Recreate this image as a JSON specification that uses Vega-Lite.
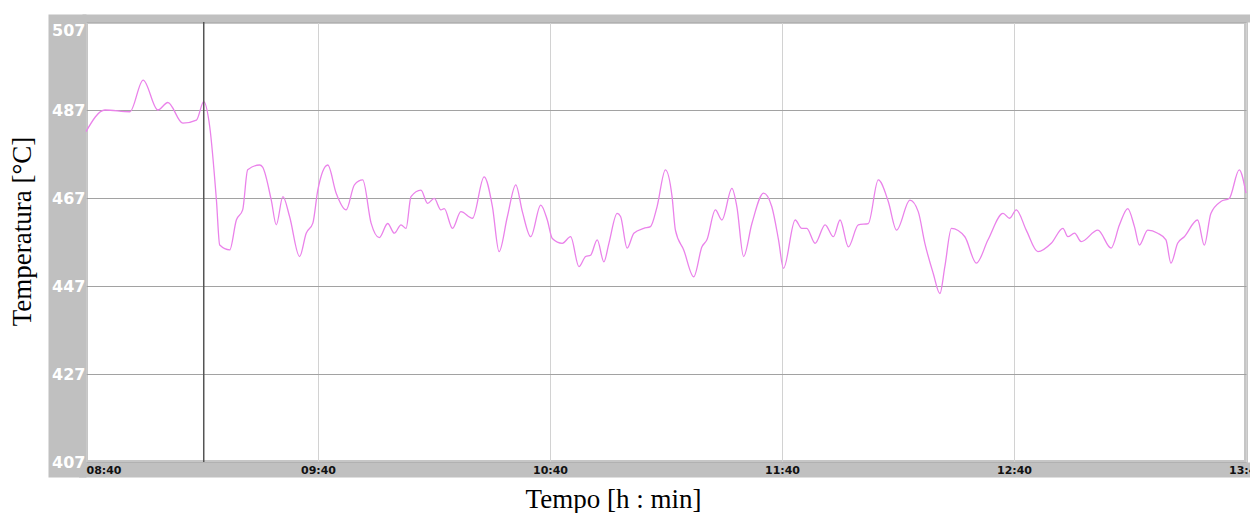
{
  "$schema": "https://vega.github.io/schema/vega-lite/v6.json",
  "width": 1160,
  "height": 440,
  "autosize": {"type": "none"},
  "padding": {"left": 86, "top": 22, "right": 4, "bottom": 51},
  "background": "white",
  "config": {"view": {"stroke": "#c6c6c6", "strokeWidth": 4}},
  "datasets": {"temp": [
    {"t": "2020-01-01T08:40:00", "temp": 482.1},
    {"t": "2020-01-01T08:44:54", "temp": 487.0},
    {"t": "2020-01-01T08:51:21", "temp": 486.6},
    {"t": "2020-01-01T08:54:47", "temp": 493.8},
    {"t": "2020-01-01T08:58:35", "temp": 487.0},
    {"t": "2020-01-01T09:01:10", "temp": 488.7},
    {"t": "2020-01-01T09:05:02", "temp": 484.0},
    {"t": "2020-01-01T09:08:34", "temp": 484.7},
    {"t": "2020-01-01T09:10:27", "temp": 488.9},
    {"t": "2020-01-01T09:12:00", "temp": 483.2},
    {"t": "2020-01-01T09:13:44", "temp": 466.5},
    {"t": "2020-01-01T09:14:35", "temp": 456.3},
    {"t": "2020-01-01T09:17:10", "temp": 455.2},
    {"t": "2020-01-01T09:18:53", "temp": 462.0},
    {"t": "2020-01-01T09:20:31", "temp": 464.3},
    {"t": "2020-01-01T09:21:49", "temp": 473.4},
    {"t": "2020-01-01T09:24:54", "temp": 474.5},
    {"t": "2020-01-01T09:25:41", "temp": 474.0},
    {"t": "2020-01-01T09:27:55", "temp": 466.5},
    {"t": "2020-01-01T09:29:13", "temp": 460.9},
    {"t": "2020-01-01T09:30:55", "temp": 467.3},
    {"t": "2020-01-01T09:32:39", "temp": 462.8},
    {"t": "2020-01-01T09:35:14", "temp": 453.7},
    {"t": "2020-01-01T09:36:57", "temp": 459.0},
    {"t": "2020-01-01T09:38:40", "temp": 461.3},
    {"t": "2020-01-01T09:39:57", "temp": 468.8},
    {"t": "2020-01-01T09:42:32", "temp": 474.5},
    {"t": "2020-01-01T09:44:42", "temp": 468.1},
    {"t": "2020-01-01T09:47:17", "temp": 464.3},
    {"t": "2020-01-01T09:49:25", "temp": 470.0},
    {"t": "2020-01-01T09:51:34", "temp": 471.1},
    {"t": "2020-01-01T09:53:44", "temp": 461.3},
    {"t": "2020-01-01T09:55:52", "temp": 458.0},
    {"t": "2020-01-01T09:58:01", "temp": 461.2},
    {"t": "2020-01-01T09:59:45", "temp": 459.0},
    {"t": "2020-01-01T10:01:28", "temp": 460.9},
    {"t": "2020-01-01T10:02:46", "temp": 460.1},
    {"t": "2020-01-01T10:04:03", "temp": 467.3},
    {"t": "2020-01-01T10:06:38", "temp": 468.8},
    {"t": "2020-01-01T10:08:20", "temp": 465.8},
    {"t": "2020-01-01T10:10:04", "temp": 466.9},
    {"t": "2020-01-01T10:11:47", "temp": 464.3},
    {"t": "2020-01-01T10:12:39", "temp": 464.6},
    {"t": "2020-01-01T10:14:47", "temp": 460.1},
    {"t": "2020-01-01T10:16:57", "temp": 463.9},
    {"t": "2020-01-01T10:19:57", "temp": 462.4},
    {"t": "2020-01-01T10:22:58", "temp": 471.8},
    {"t": "2020-01-01T10:25:07", "temp": 465.0},
    {"t": "2020-01-01T10:26:50", "temp": 454.8},
    {"t": "2020-01-01T10:28:59", "temp": 462.8},
    {"t": "2020-01-01T10:31:09", "temp": 470.0},
    {"t": "2020-01-01T10:32:51", "temp": 463.9},
    {"t": "2020-01-01T10:35:01", "temp": 458.2},
    {"t": "2020-01-01T10:37:36", "temp": 465.4},
    {"t": "2020-01-01T10:39:18", "temp": 462.0},
    {"t": "2020-01-01T10:40:36", "temp": 457.8},
    {"t": "2020-01-01T10:43:11", "temp": 456.7},
    {"t": "2020-01-01T10:45:20", "temp": 458.2},
    {"t": "2020-01-01T10:47:29", "temp": 451.4},
    {"t": "2020-01-01T10:49:13", "temp": 453.7},
    {"t": "2020-01-01T10:50:30", "temp": 454.0},
    {"t": "2020-01-01T10:52:13", "temp": 457.5},
    {"t": "2020-01-01T10:53:56", "temp": 452.5},
    {"t": "2020-01-01T10:55:14", "temp": 456.7},
    {"t": "2020-01-01T10:57:22", "temp": 463.5},
    {"t": "2020-01-01T10:58:15", "temp": 462.8},
    {"t": "2020-01-01T10:59:57", "temp": 455.6},
    {"t": "2020-01-01T11:01:41", "temp": 459.0},
    {"t": "2020-01-01T11:04:15", "temp": 460.1},
    {"t": "2020-01-01T11:05:59", "temp": 460.5},
    {"t": "2020-01-01T11:07:41", "temp": 465.0},
    {"t": "2020-01-01T11:09:51", "temp": 473.4},
    {"t": "2020-01-01T11:11:34", "temp": 467.3},
    {"t": "2020-01-01T11:12:26", "temp": 459.7},
    {"t": "2020-01-01T11:14:35", "temp": 455.2},
    {"t": "2020-01-01T11:17:10", "temp": 449.1},
    {"t": "2020-01-01T11:19:18", "temp": 455.9},
    {"t": "2020-01-01T11:20:35", "temp": 457.5},
    {"t": "2020-01-01T11:22:46", "temp": 464.3},
    {"t": "2020-01-01T11:24:28", "temp": 462.0},
    {"t": "2020-01-01T11:27:03", "temp": 469.2},
    {"t": "2020-01-01T11:28:20", "temp": 465.0},
    {"t": "2020-01-01T11:30:04", "temp": 453.7},
    {"t": "2020-01-01T11:32:13", "temp": 461.2},
    {"t": "2020-01-01T11:35:14", "temp": 468.1},
    {"t": "2020-01-01T11:37:22", "temp": 465.0},
    {"t": "2020-01-01T11:39:06", "temp": 457.5},
    {"t": "2020-01-01T11:40:23", "temp": 451.0},
    {"t": "2020-01-01T11:43:25", "temp": 462.0},
    {"t": "2020-01-01T11:45:07", "temp": 460.1},
    {"t": "2020-01-01T11:46:24", "temp": 460.1},
    {"t": "2020-01-01T11:48:34", "temp": 456.7},
    {"t": "2020-01-01T11:51:09", "temp": 460.9},
    {"t": "2020-01-01T11:53:17", "temp": 458.2},
    {"t": "2020-01-01T11:55:01", "temp": 462.0},
    {"t": "2020-01-01T11:57:10", "temp": 455.9},
    {"t": "2020-01-01T11:59:44", "temp": 460.9},
    {"t": "2020-01-01T12:02:19", "temp": 461.2},
    {"t": "2020-01-01T12:04:54", "temp": 471.1},
    {"t": "2020-01-01T12:07:29", "temp": 466.2},
    {"t": "2020-01-01T12:09:38", "temp": 459.7},
    {"t": "2020-01-01T12:13:05", "temp": 466.5},
    {"t": "2020-01-01T12:15:14", "temp": 463.9},
    {"t": "2020-01-01T12:16:57", "temp": 456.7},
    {"t": "2020-01-01T12:19:06", "temp": 449.9},
    {"t": "2020-01-01T12:20:50", "temp": 445.3},
    {"t": "2020-01-01T12:22:07", "temp": 451.4},
    {"t": "2020-01-01T12:23:49", "temp": 460.1},
    {"t": "2020-01-01T12:27:17", "temp": 458.2},
    {"t": "2020-01-01T12:30:16", "temp": 452.2},
    {"t": "2020-01-01T12:33:17", "temp": 457.5},
    {"t": "2020-01-01T12:37:10", "temp": 463.5},
    {"t": "2020-01-01T12:38:53", "temp": 462.4},
    {"t": "2020-01-01T12:40:35", "temp": 464.3},
    {"t": "2020-01-01T12:43:10", "temp": 459.7},
    {"t": "2020-01-01T12:46:11", "temp": 454.8},
    {"t": "2020-01-01T12:49:38", "temp": 456.7},
    {"t": "2020-01-01T12:52:39", "temp": 460.1},
    {"t": "2020-01-01T12:53:56", "temp": 458.2},
    {"t": "2020-01-01T12:55:40", "temp": 459.0},
    {"t": "2020-01-01T12:57:22", "temp": 457.1},
    {"t": "2020-01-01T13:01:41", "temp": 459.7},
    {"t": "2020-01-01T13:05:07", "temp": 455.6},
    {"t": "2020-01-01T13:07:17", "temp": 460.9},
    {"t": "2020-01-01T13:09:25", "temp": 464.6},
    {"t": "2020-01-01T13:11:09", "temp": 460.5},
    {"t": "2020-01-01T13:12:26", "temp": 456.3},
    {"t": "2020-01-01T13:14:35", "temp": 459.7},
    {"t": "2020-01-01T13:17:10", "temp": 459.0},
    {"t": "2020-01-01T13:19:18", "temp": 457.5},
    {"t": "2020-01-01T13:20:35", "temp": 452.2},
    {"t": "2020-01-01T13:22:19", "temp": 456.7},
    {"t": "2020-01-01T13:24:03", "temp": 458.2},
    {"t": "2020-01-01T13:27:29", "temp": 462.0},
    {"t": "2020-01-01T13:29:13", "temp": 456.3},
    {"t": "2020-01-01T13:30:55", "temp": 463.5},
    {"t": "2020-01-01T13:33:30", "temp": 466.2},
    {"t": "2020-01-01T13:35:40", "temp": 466.9},
    {"t": "2020-01-01T13:38:15", "temp": 473.4},
    {"t": "2020-01-01T13:40:00", "temp": 468.1}
  ],
  "cursor": [{"t": "2020-01-01T09:10:27"}]},
  "resolve": {"axis": {"x": "independent", "y": "independent"}},
  "layer": [
    {
      "data": {"name": "temp"},
      "mark": {"type": "line", "color": "#ea82ea", "strokeWidth": 1.3, "interpolate": "monotone"},
      "encoding": {
        "x": {
          "field": "t", "type": "temporal",
          "scale": {"domain": [
            {"year": 2020, "month": 1, "date": 1, "hours": 8, "minutes": 40},
            {"year": 2020, "month": 1, "date": 1, "hours": 13, "minutes": 40}
          ]},
          "axis": {
            "orient": "bottom",
            "values": [
              {"year": 2020, "month": 1, "date": 1, "hours": 8, "minutes": 40},
              {"year": 2020, "month": 1, "date": 1, "hours": 9, "minutes": 40},
              {"year": 2020, "month": 1, "date": 1, "hours": 10, "minutes": 40},
              {"year": 2020, "month": 1, "date": 1, "hours": 11, "minutes": 40},
              {"year": 2020, "month": 1, "date": 1, "hours": 12, "minutes": 40},
              {"year": 2020, "month": 1, "date": 1, "hours": 13, "minutes": 40}
            ],
            "offset": 7.5,
            "domainWidth": 15,
            "domainColor": "#c0c0c0",
            "domainCap": "square",
            "ticks": false,
            "labels": false,
            "grid": true,
            "gridColor": "#d2d2d2",
            "gridWidth": 1,
            "zindex": 0,
            "title": "Tempo [h : min]",
            "titleFont": "Liberation Serif",
            "titleFontSize": 27,
            "titleFontWeight": "normal",
            "titleColor": "#000000",
            "titleAlign": "center",
            "titleBaseline": "alphabetic",
            "titleX": 527,
            "titleY": 37.5
          }
        },
        "y": {
          "field": "temp", "type": "quantitative",
          "scale": {"domain": [407, 507], "nice": false, "zero": false},
          "axis": {
            "orient": "left",
            "values": [407, 427, 447, 467, 487, 507],
            "offset": 19,
            "domainWidth": 38,
            "domainColor": "#c0c0c0",
            "domainCap": "square",
            "domainDash": [425, 2000],
            "domainDashOffset": 2421,
            "ticks": false,
            "labels": false,
            "grid": true,
            "gridColor": "#a2a2a2",
            "gridWidth": 1,
            "zindex": 0,
            "title": "Temperatura [°C]",
            "titleFont": "Liberation Serif",
            "titleFontSize": 27,
            "titleFontWeight": "normal",
            "titleColor": "#000000",
            "titleAngle": -90,
            "titleAlign": "center",
            "titleBaseline": "alphabetic",
            "titleX": -37,
            "titleY": 209
          }
        }
      }
    },
    {
      "data": {"name": "cursor"},
      "mark": {"type": "rule", "color": "#555555", "strokeWidth": 1.5},
      "encoding": {
        "x": {
          "field": "t",
          "type": "temporal",
          "axis": {
            "orient": "bottom",
            "values": [
              {"year": 2020, "month": 1, "date": 1, "hours": 8, "minutes": 40},
              {"year": 2020, "month": 1, "date": 1, "hours": 9, "minutes": 40},
              {"year": 2020, "month": 1, "date": 1, "hours": 10, "minutes": 40},
              {"year": 2020, "month": 1, "date": 1, "hours": 11, "minutes": 40},
              {"year": 2020, "month": 1, "date": 1, "hours": 12, "minutes": 40},
              {"year": 2020, "month": 1, "date": 1, "hours": 13, "minutes": 40}
            ],
            "format": "%H:%M",
            "offset": 7.5,
            "domain": false,
            "ticks": false,
            "tickSize": 0,
            "grid": false,
            "zindex": 1,
            "labelPadding": 0.5,
            "labelBaseline": "middle",
            "labelColor": "#111111",
            "labelFont": "DejaVu Sans",
            "labelFontSize": 11,
            "labelFontWeight": "bold",
            "labelAlign": {"condition": {"test": "datum.index == 0", "value": "left"}, "value": "center"},
            "labelFlush": false,
            "labelOverlap": false,
            "labelBound": false,
            "title": null
          }
        },
        "y": {
          "datum": 407, "type": "quantitative",
          "axis": {
            "orient": "left",
            "values": [407, 427, 447, 467, 487, 507],
            "offset": 19,
            "domain": false,
            "ticks": false,
            "tickSize": 0,
            "grid": false,
            "zindex": 1,
            "labelPadding": -18,
            "labelAlign": "right",
            "labelBaseline": {"condition": {"test": "datum.value >= 507", "value": "top"}, "value": "middle"},
            "labelColor": "#ffffff",
            "labelFont": "DejaVu Sans",
            "labelFontSize": 16,
            "labelFontWeight": "bold",
            "labelFlush": false,
            "labelOverlap": false,
            "labelBound": false,
            "title": null
          }
        },
        "y2": {"datum": 507}
      }
    },
    {
      "data": {"name": "temp"},
      "mark": {"type": "line", "strokeOpacity": 0, "opacity": 0},
      "encoding": {
        "x": {
          "field": "t", "type": "temporal",
          "axis": {
            "orient": "top",
            "offset": 4,
            "domainWidth": 8,
            "domainColor": "#c0c0c0",
            "domainCap": "square",
            "ticks": false,
            "labels": false,
            "grid": false,
            "title": null
          }
        },
        "y": {"field": "temp", "type": "quantitative", "axis": null}
      }
    }
  ]
}
